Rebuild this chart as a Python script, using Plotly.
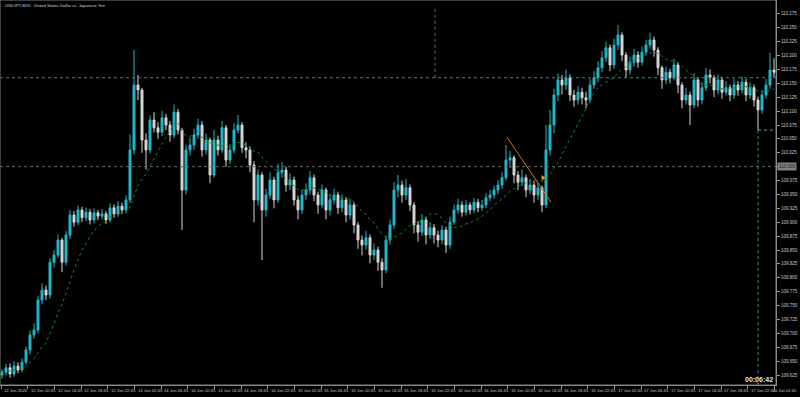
import plotly.graph_objects as go
import pandas as pd

# ---------------- data (USDJPY M15) ----------------
first_open = 109.625
close = [109.630,109.638,109.627,109.641,109.634,109.648,109.670,109.697,109.706,109.760,
         109.778,109.769,109.828,109.841,109.868,109.828,109.877,109.913,109.900,109.922,
         109.908,109.918,109.904,109.917,109.911,109.915,109.904,109.926,109.915,109.929,
         109.922,109.940,110.030,110.147,110.138,110.048,110.030,110.084,110.070,110.062,
         110.088,110.075,110.057,110.098,110.066,109.958,110.030,110.039,110.057,110.075,
         110.030,110.048,109.985,110.048,110.030,110.070,110.012,110.030,110.066,110.075,
         110.034,110.030,110.003,109.940,109.985,109.922,109.949,109.976,109.940,109.990,
         109.994,109.967,109.976,109.940,109.922,109.949,109.958,109.980,109.949,109.931,
         109.958,109.922,109.940,109.949,109.926,109.940,109.913,109.931,109.895,109.868,
         109.859,109.872,109.841,109.850,109.828,109.814,109.868,109.895,109.958,109.967,
         109.949,109.962,109.931,109.895,109.882,109.904,109.877,109.890,109.877,109.868,
         109.886,109.859,109.900,109.922,109.931,109.918,109.931,109.922,109.936,109.926,
         109.931,109.944,109.949,109.958,109.967,109.980,110.012,110.016,109.985,109.972,
         109.980,109.958,109.967,109.949,109.962,109.931,110.030,110.075,110.129,110.156,
         110.147,110.160,110.129,110.120,110.134,110.124,110.120,110.147,110.160,110.178,
         110.196,110.214,110.183,110.219,110.237,110.201,110.174,110.188,110.201,110.188,
         110.206,110.219,110.228,110.210,110.178,110.156,110.170,110.160,110.183,110.147,
         110.120,110.129,110.111,110.156,110.120,110.142,110.165,110.160,110.138,110.156,
         110.134,110.142,110.129,110.147,110.138,110.152,110.129,110.142,110.120,110.102,
         110.129,110.147,110.174,110.170]
high = [109.636,109.645,109.646,109.650,109.648,109.655,109.676,109.705,109.718,109.768,
        109.790,109.786,109.835,109.850,109.878,109.872,109.884,109.922,109.920,109.930,
        109.928,109.926,109.924,109.925,109.922,109.924,109.920,109.934,109.932,109.938,
        109.935,109.948,110.058,110.210,110.165,110.142,110.060,110.092,110.098,110.080,
        110.100,110.095,110.082,110.112,110.104,110.070,110.040,110.052,110.068,110.086,
        110.082,110.060,110.052,110.066,110.056,110.082,110.075,110.040,110.078,110.093,
        110.080,110.044,110.036,110.010,109.995,109.990,109.960,109.990,109.982,110.005,
        110.008,110.000,109.988,109.982,109.948,109.958,109.970,109.992,109.986,109.955,
        109.968,109.962,109.950,109.960,109.955,109.950,109.945,109.942,109.936,109.900,
        109.876,109.884,109.878,109.862,109.856,109.835,109.875,109.905,109.972,109.985,
        109.975,109.978,109.968,109.936,109.902,109.915,109.910,109.900,109.897,109.885,
        109.895,109.892,109.910,109.932,109.942,109.938,109.940,109.936,109.944,109.942,
        109.940,109.952,109.958,109.966,109.976,109.990,110.039,110.028,110.020,109.992,
        109.995,109.986,109.978,109.975,109.972,109.966,110.075,110.102,110.140,110.168,
        110.165,110.175,110.166,110.138,110.145,110.142,110.135,110.158,110.172,110.190,
        110.208,110.225,110.220,110.230,110.255,110.242,110.206,110.198,110.212,110.208,
        110.216,110.228,110.241,110.234,110.215,110.182,110.180,110.176,110.194,110.188,
        110.152,110.142,110.135,110.168,110.160,110.152,110.178,110.175,110.165,110.166,
        110.162,110.154,110.148,110.158,110.154,110.162,110.158,110.152,110.148,110.126,
        110.138,110.158,110.205,110.195]
low = [109.618,109.624,109.620,109.622,109.628,109.630,109.644,109.662,109.690,109.700,
       109.752,109.760,109.762,109.818,109.836,109.810,109.822,109.870,109.892,109.895,
       109.900,109.902,109.896,109.898,109.904,109.905,109.897,109.900,109.908,109.910,
       109.915,109.916,109.935,110.022,110.120,110.025,109.995,110.024,110.062,110.050,
       110.055,110.066,110.045,110.052,110.058,109.886,109.950,110.020,110.030,110.050,
       110.018,110.022,109.970,109.980,110.020,110.025,110.000,110.005,110.024,110.060,
       110.025,110.015,109.990,109.900,109.930,109.832,109.910,109.942,109.925,109.935,
       109.980,109.955,109.958,109.930,109.905,109.915,109.940,109.950,109.938,109.915,
       109.925,109.905,109.912,109.932,109.915,109.918,109.900,109.905,109.880,109.852,
       109.840,109.850,109.826,109.832,109.812,109.782,109.808,109.860,109.888,109.945,
       109.935,109.940,109.920,109.880,109.865,109.875,109.860,109.870,109.862,109.855,
       109.860,109.845,109.852,109.895,109.915,109.910,109.912,109.914,109.916,109.918,
       109.920,109.925,109.938,109.942,109.950,109.960,109.975,109.998,109.970,109.958,
       109.965,109.945,109.950,109.935,109.940,109.918,109.925,110.020,110.060,110.118,
       110.130,110.138,110.118,110.108,110.112,110.112,110.105,110.114,110.140,110.152,
       110.170,110.188,110.172,110.176,110.210,110.190,110.160,110.166,110.180,110.178,
       110.182,110.200,110.212,110.198,110.165,110.140,110.148,110.150,110.155,110.132,
       110.105,110.112,110.075,110.105,110.108,110.112,110.136,110.150,110.125,110.130,
       110.122,110.128,110.118,110.122,110.128,110.132,110.118,110.122,110.108,110.066,
       110.095,110.122,110.140,110.160]

x_labels = ["12 Jun 2020","12 Jun 10:45","12 Jun 14:45","12 Jun 18:45","12 Jun 22:45",
            "14 Jun 02:45","14 Jun 06:45","14 Jun 10:45","14 Jun 14:45","14 Jun 18:45",
            "14 Jun 22:45","15 Jun 02:45","15 Jun 06:45","15 Jun 10:45","15 Jun 14:45",
            "15 Jun 18:45","15 Jun 22:45","16 Jun 02:45","16 Jun 06:45","16 Jun 10:45",
            "16 Jun 14:45","16 Jun 18:45","16 Jun 22:45","17 Jun 02:45","17 Jun 06:45",
            "17 Jun 10:45","17 Jun 14:45","17 Jun 18:45","17 Jun 22:45","20 Jun 02:45"]
y_ticks = [109.625,109.650,109.675,109.700,109.725,109.750,109.775,109.800,109.825,
           109.850,109.875,109.900,109.925,109.950,109.975,110.000,110.025,110.050,
           110.075,110.100,110.125,110.150,110.175,110.200,110.225,110.250,110.275]
title_text = "USDJPY,M15:  United States Dollar vs. Japanese Yen"
timer_text = "00:06:42"
level_label = "110.000"
h_level_1 = 110.160
h_level_2 = 110.000
trend_start = (126.25, 110.053)
trend_end = (137.25, 109.936)
ma_period = 12

# ---------------- derived ----------------
n = len(close)
idx = list(range(n))
opens = [first_open] + close[:-1]
ma = pd.Series(close).rolling(ma_period, min_periods=1).mean().tolist()
# the level box on the axis replaces the 110.000 tick text
y_ticktext = ["" if abs(v - h_level_2) < 1e-9 else "%.3f" % v for v in y_ticks]

BULL = "#22b8c8"
BEAR = "#d6d6d6"
AX = "#9a9a9a"
FONT = "Liberation Sans"

fig = go.Figure()
fig.add_trace(go.Candlestick(
    x=idx, open=opens, high=high, low=low, close=close,
    increasing=dict(line=dict(color=BULL, width=1), fillcolor=BULL),
    decreasing=dict(line=dict(color=BEAR, width=1), fillcolor=BEAR),
    whiskerwidth=0, showlegend=False, hoverinfo="skip"))
fig.add_trace(go.Scatter(x=idx, y=ma, mode="lines",
                         line=dict(color="#0b8a1a", width=1, dash="dot"),
                         showlegend=False, hoverinfo="skip"))
fig.add_trace(go.Scatter(x=[trend_start[0], trend_end[0]], y=[trend_start[1], trend_end[1]],
                         mode="lines", line=dict(color="#c87a10", width=1),
                         showlegend=False, hoverinfo="skip"))
fig.add_trace(go.Scatter(x=[135.2], y=[109.980], mode="markers",
                         marker=dict(symbol="triangle-right", size=5, color="#ff9a1a"),
                         showlegend=False, hoverinfo="skip"))

x_min, x_max = -0.5, n - 0.5
px_per_unit = 776 / n
label_step = 26.667 / px_per_unit
x_tickvals = [k * label_step - 0.25 for k in range(len(x_labels))]

shapes = [
    dict(type="line", xref="x", yref="y", x0=x_min, x1=x_max, y0=h_level_1, y1=h_level_1,
         line=dict(color="#3a7f8c", width=1, dash="dot")),
    dict(type="line", xref="x", yref="y", x0=x_min, x1=x_max, y0=h_level_2, y1=h_level_2,
         line=dict(color="#6a6a6a", width=1, dash="dot")),
    dict(type="line", xref="x", yref="y", x0=108.25, x1=108.25, y0=h_level_1, y1=110.286,
         line=dict(color="#6a6a6a", width=1, dash="dot")),
    dict(type="line", xref="x", yref="y", x0=189.0, x1=189.0, y0=109.607, y1=110.066,
         line=dict(color="#3a8a9a", width=1, dash="dot")),
    dict(type="line", xref="x", yref="y", x0=189.0, x1=x_max, y0=110.066, y1=110.066,
         line=dict(color="#8a8a8a", width=1, dash="dot")),
    dict(type="rect", xref="paper", yref="paper", x0=0, x1=1, y0=0, y1=1,
         line=dict(color="#7a7a7a", width=1)),
]

annotations = []
for k, lab in enumerate(x_labels):
    if k == len(x_labels) - 1:
        # last label sits under the price scale, kept inside the window
        annotations.append(dict(x=800, y=0, xref="x domain" if False else "paper", yref="paper",
                                text=lab, showarrow=False, xanchor="right", yanchor="top",
                                yshift=-1,
                                font=dict(size=4, color="#c8c8c8", family=FONT)))
        annotations[-1]["x"] = 1.0
        annotations[-1]["xshift"] = 23
    else:
        annotations.append(dict(x=x_tickvals[k] + 0.3, y=0, xref="x", yref="paper", text=lab,
                                showarrow=False, xanchor="left", yanchor="top", yshift=-1,
                                font=dict(size=4.2, color="#c8c8c8", family=FONT)))
annotations.append(dict(x=0.004, y=0.997, xref="paper", yref="paper", text=title_text,
                        showarrow=False, xanchor="left", yanchor="top",
                        font=dict(size=4.2, color="#d0d0d0", family=FONT)))
annotations.append(dict(x=0.999, y=0.0, xref="paper", yref="paper", text="<b>%s</b>" % timer_text,
                        showarrow=False, xanchor="right", yanchor="bottom",
                        font=dict(size=7, color="#dce6f8", family=FONT)))
annotations.append(dict(x=1, y=h_level_2, xref="paper", yref="y", text=level_label,
                        showarrow=False, xanchor="left", yanchor="middle", xshift=1,
                        bgcolor="#808080", borderpad=1,
                        font=dict(size=4.5, color="#202020", family=FONT)))

fig.update_layout(
    width=800, height=397,
    margin=dict(l=0, r=24, t=0, b=12),
    paper_bgcolor="#000000", plot_bgcolor="#000000",
    shapes=shapes, annotations=annotations,
    xaxis=dict(range=[x_min, x_max], rangeslider=dict(visible=False),
               showgrid=False, zeroline=False, tickvals=x_tickvals,
               ticktext=["" for _ in x_labels], ticks="outside", ticklen=3,
               tickcolor=AX, showline=True, linecolor=AX, fixedrange=True),
    yaxis=dict(range=[109.607, 110.300], side="right", showgrid=False, zeroline=False,
               tickvals=y_ticks, ticktext=y_ticktext, ticks="outside", ticklen=3,
               tickcolor=AX, showline=True, linecolor=AX,
               tickfont=dict(size=4.5, color="#c8c8c8", family=FONT)),
    showlegend=False,
)

fig.write_html("out.html")
